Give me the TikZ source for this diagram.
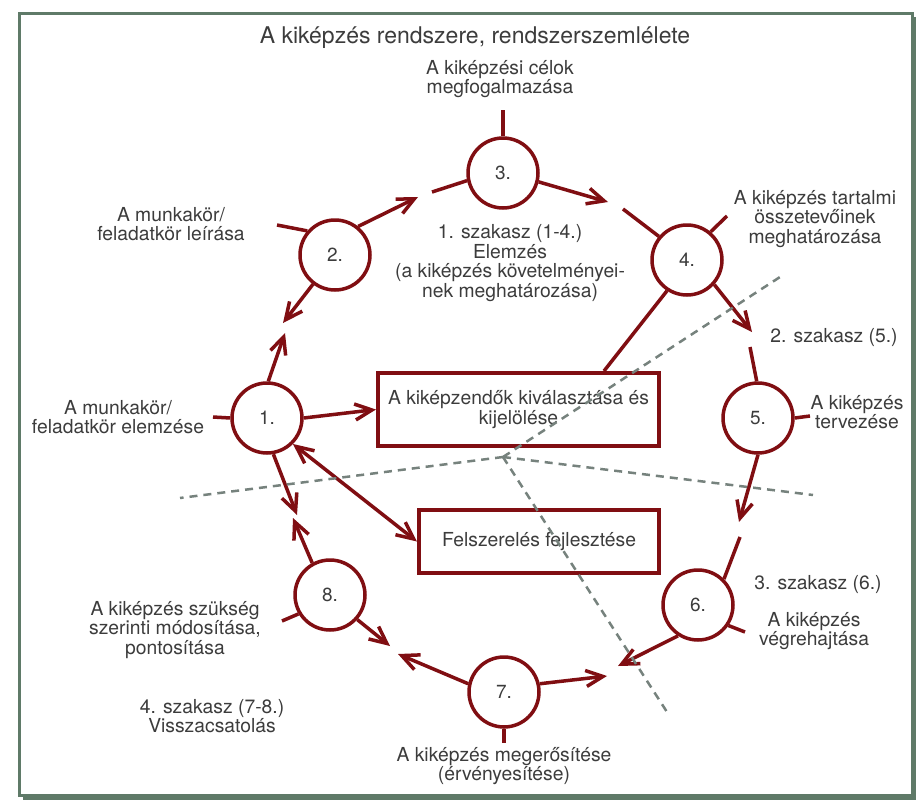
\documentclass[tikz,border=0pt]{standalone}
\usepackage{fontspec}
\setmainfont{TeX Gyre Heros}
\usetikzlibrary{arrows.meta,calc}
\definecolor{dred}{RGB}{128,14,18}
\definecolor{txt}{RGB}{60,60,60}
\definecolor{frm}{RGB}{95,122,104}
\definecolor{dgray}{RGB}{118,130,125}
\begin{document}
\begin{tikzpicture}[x=1pt,y=-1pt,
  numc/.style={circle, draw=dred, line width=3.5pt, minimum size=70pt, inner sep=0pt, text=txt, font=\fontsize{19}{20}\selectfont},
  boxn/.style={draw=dred, line width=4pt, text=txt, align=center, inner sep=0pt, font=\fontsize{19.3}{19.6}\selectfont},
  lbl/.style={text=txt, align=center, inner sep=0pt, font=\fontsize{19.3}{19.6}\selectfont},
  con/.style={dred, line width=3.5pt},
  arr/.style={con, -{Straight Barb[length=17pt,width=16pt]}},
  dbl/.style={con, {Straight Barb[length=17pt,width=16pt]}-{Straight Barb[length=17pt,width=16pt]}},
  sep/.style={dgray, line width=2.5pt, dash pattern=on 8pt off 6pt}]
\useasboundingbox (0,0) rectangle (916,801);
% frame with shadow
\fill[frm] (23,17) rectangle (916,800);
\draw[frm, fill=white, line width=3pt] (19.5,13) rectangle (912,795);

% title
\node[text=txt, inner sep=0pt, font=\fontsize{23}{25}\selectfont] (title) at (475,38) {A kiképzés rendszere, rendszerszemlélete};

% circles
\node[numc] (c1) at (267,418) {1.};
\node[numc] (c2) at (335,255) {2.};
\node[numc] (c3) at (503,173) {3.};
\node[numc] (c4) at (687,260) {4.};
\node[numc] (c5) at (758,418) {5.};
\node[numc] (c6) at (698,605) {6.};
\node[numc] (c7) at (504,692) {7.};
\node[numc] (c8) at (330,595) {8.};

% boxes
\node[boxn, minimum width=281pt, minimum height=73pt] (b1) at (518.5,409.5) {A kiképzendők kiválasztása és\\kijelölése};
\node[boxn, minimum width=240pt, minimum height=63pt] (b2) at (539,541.5) {Felszerelés fejlesztése};

% labels
\node[lbl] (t3) at (500,79) {A kiképzési célok\\megfogalmazása};
\node[lbl] (t2) at (171,224) {A munkakör/\\feladatkör leírása};
\node[lbl] (ph1) at (510,263) {1. szakasz (1-4.)\\Elemzés\\(a kiképzés követelményei-\\nek meghatározása)};
\node[lbl] (t4) at (815,219) {A kiképzés tartalmi\\összetevőinek\\meghatározása};
\node[lbl] (ph2) at (834,338) {2. szakasz (5.)};
\node[lbl] (t5) at (857,412) {A kiképzés\\tervezése};
\node[lbl] (t1) at (118,417) {A munkakör/\\feladatkör elemzése};
\node[lbl] (ph3) at (818,585) {3. szakasz (6.)};
\node[lbl] (t6) at (814,631) {A kiképzés\\végrehajtása};
\node[lbl] (t8) at (175,630) {A kiképzés szükség\\szerinti módosítása,\\pontosítása};
\node[lbl] (ph4) at (212,716) {4. szakasz (7-8.)\\Visszacsatolás};
\node[lbl] (t7) at (504,766) {A kiképzés megerősítése\\(érvényesítése)};

% free-end coordinates
\coordinate (a23) at (418,197);
\coordinate (s23) at (432,192);
\coordinate (a34) at (608,202);
\coordinate (s34) at (623,209);
\coordinate (a45) at (752,332);
\coordinate (s45) at (750,347);
\coordinate (a56) at (739,522);
\coordinate (s56) at (740,537);
\coordinate (a67) at (618,666);
\coordinate (a76) at (607,676);
\coordinate (a78) at (398,654);
\coordinate (a87) at (390,646);
\coordinate (a18) at (297,515);
\coordinate (a81) at (293,518);
\coordinate (a12) at (285,333);
\coordinate (a21) at (283,323);
% tick ends
\coordinate (k1) at (213,417);
\coordinate (k2) at (277,225);
\coordinate (k3) at (503,110);
\coordinate (k4) at (727,216);
\coordinate (k5) at (810,416);
\coordinate (k6) at (745,632);
\coordinate (k7) at (504,743);
\coordinate (k8) at (282,621);
% dashed line ends
\coordinate (m) at (503,457);
\coordinate (dW) at (180,498);
\coordinate (dNE) at (780,277);
\coordinate (dE) at (813,495);
\coordinate (dS) at (667,712);

% cycle connectors
\draw[arr] (c2.51) -- (a23);
\draw[con] (s23) -- (c3.192);
\draw[arr] (c3.-14) -- (a34);
\draw[con] (s34) -- (c4.140);
\draw[arr] (c4.-42) -- (a45);
\draw[con] (s45) -- (c5.92);
\draw[arr] (c5.-90) -- (a56);
\draw[con] (s56) -- (c6.45);
\draw[arr] (c6.-123) -- (a67);
\draw[arr] (c7.13) -- (a76);
\draw[arr] (c7.167) -- (a78);
\draw[arr] (c8.-42) -- (a87);
\draw[arr] (c1.-80) -- (a18);
\draw[arr] (c8.119) -- (a81);
\draw[arr] (c1.88) -- (a12);
\draw[arr] (c2.-127) -- (a21);

% other connectors
\draw[arr] (c1.east) -- (b1.west);
\draw[dbl] (c1.-45) -- (b2.west);
\draw[con] (c4.-123) -- ($(b1.north east)!0.2!(b1.north west)$);

% ticks
\draw[con] (c1.west) -- (k1);
\draw[con] (c2.139) -- (k2);
\draw[con] (c3.north) -- (k3);
\draw[con] (c4.50) -- (k4);
\draw[con] (c5.east) -- (k5);
\draw[con] (c6.-34) -- (k6);
\draw[con] (c7.south) -- (k7);
\draw[con] (c8.-149) -- (k8);

% dashed separators
\draw[sep] (m) -- (dW);
\draw[sep] (m) -- (dNE);
\draw[sep] (m) -- (dE);
\draw[sep] (m) -- (dS);
\end{tikzpicture}
\end{document}
